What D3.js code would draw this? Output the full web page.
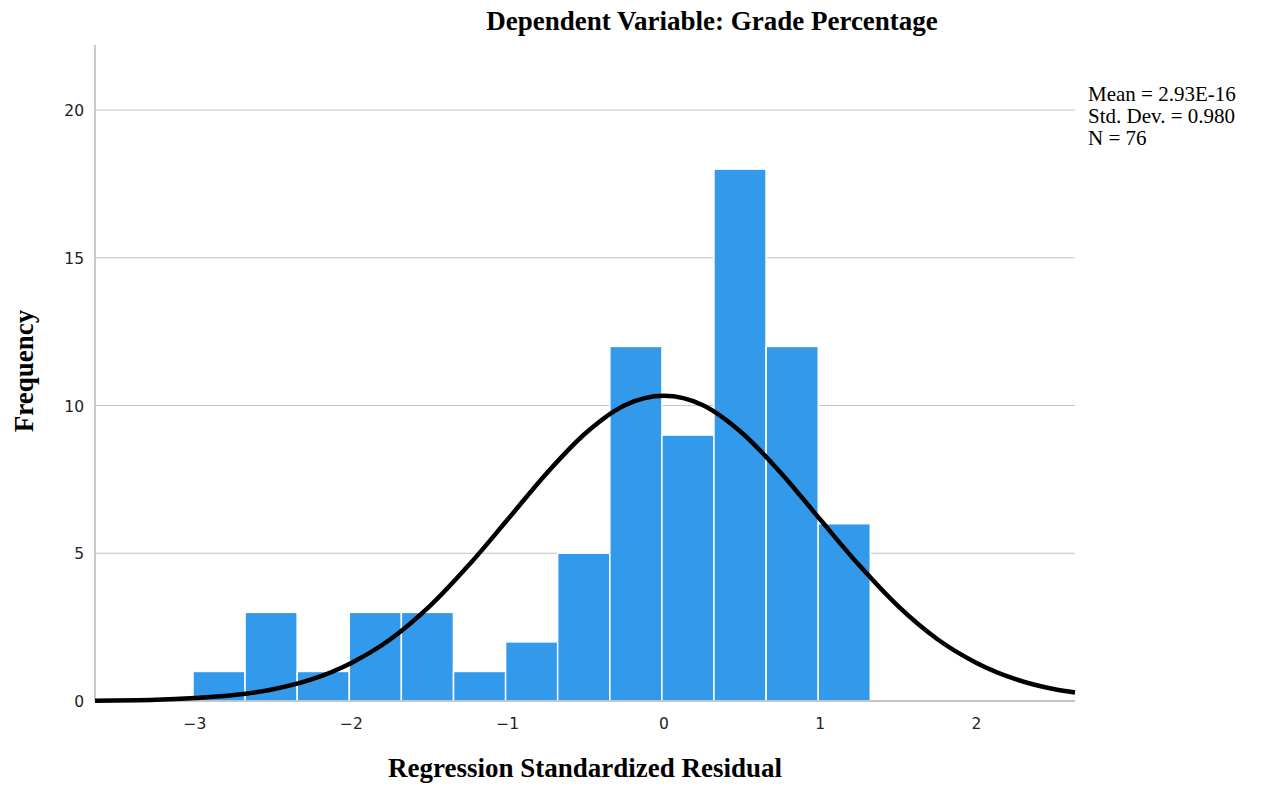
<!DOCTYPE html>
<html><head><meta charset="utf-8">
<script src="https://cdn.jsdelivr.net/npm/d3@7"></script>
<style>body{margin:0;background:#fff}svg{display:block}</style>
</head><body>
<svg id="chart" width="1261" height="788"></svg>
<script>
// Histogram bins (left edges, in residual units) and frequencies
const binStarts = [-3.013, -2.68, -2.346, -2.013, -1.68, -1.346, -1.013, -0.68, -0.346, -0.013, 0.32, 0.654, 0.987];
const binWidth = 0.3333;
const frequencies = [1, 3, 1, 3, 3, 1, 2, 5, 12, 9, 18, 12, 6];
// Normal curve points
const curveX = [-3.64, -3.25, -3.0, -2.75, -2.5, -2.25, -2.0, -1.75, -1.5, -1.25, -1.0, -0.75, -0.5, -0.25, 0.0, 0.25, 0.5, 0.75, 1.0, 1.25, 1.5, 1.75, 2.0, 2.25, 2.5, 2.63];
const curveY = [0.01, 0.04, 0.10, 0.20, 0.40, 0.74, 1.29, 2.09, 3.20, 4.59, 6.14, 7.71, 9.07, 10.01, 10.33, 10.01, 9.07, 7.71, 6.14, 4.59, 3.20, 2.09, 1.29, 0.74, 0.40, 0.29];
const yTicks = [0, 5, 10, 15, 20];
const xTicks = [-3, -2, -1, 0, 1, 2];
const statsLines = ["Mean = 2.93E-16", "Std. Dev. = 0.980", "N = 76"];
const title = "Dependent Variable: Grade Percentage";
const xLabel = "Regression Standardized Residual";
const yLabel = "Frequency";

const svg = d3.select("#chart");
const pL = 95, pR = 1075, pT = 45, pB = 701;
const x = d3.scaleLinear().domain([-3.64, 2.63]).range([pL, pR]);
const y = d3.scaleLinear().domain([0, 22.2]).range([pB, pT]);

// grid lines
svg.append("g").selectAll("line").data(yTicks).join("line")
  .attr("x1", pL).attr("x2", pR)
  .attr("y1", d => y(d)).attr("y2", d => y(d))
  .attr("stroke", "#c4c4c4").attr("stroke-width", 1.2);

// bars
svg.append("g").selectAll("rect").data(frequencies).join("rect")
  .attr("x", (d, i) => x(binStarts[i]))
  .attr("width", (d, i) => x(binStarts[i] + binWidth) - x(binStarts[i]))
  .attr("y", d => y(d))
  .attr("height", d => y(0) - y(d))
  .attr("fill", "#3399ea")
  .attr("stroke", "#ffffff").attr("stroke-width", 1.5);

// axis lines
svg.append("line").attr("x1", pL).attr("x2", pL).attr("y1", pT).attr("y2", pB)
  .attr("stroke", "#b8b8b8").attr("stroke-width", 1.5);
svg.append("line").attr("x1", pL).attr("x2", pR).attr("y1", pB).attr("y2", pB)
  .attr("stroke", "#b8b8b8").attr("stroke-width", 1.5);

// normal curve
const line = d3.line().x(d => x(d[0])).y(d => y(d[1])).curve(d3.curveMonotoneX);
svg.append("path").datum(curveX.map((v, i) => [v, curveY[i]]))
  .attr("d", line).attr("fill", "none").attr("stroke", "#000").attr("stroke-width", 4.5);

// y tick labels
svg.append("g").selectAll("text").data(yTicks).join("text")
  .attr("x", pL - 11).attr("y", d => y(d) + 6)
  .attr("text-anchor", "end")
  .attr("font-family", "DejaVu Sans, sans-serif").attr("font-size", 15.5).attr("fill", "#222")
  .text(d => d);

// x tick labels
svg.append("g").selectAll("text").data(xTicks).join("text")
  .attr("x", d => x(d)).attr("y", pB + 28)
  .attr("text-anchor", "middle")
  .attr("font-family", "DejaVu Sans, sans-serif").attr("font-size", 15.5).attr("fill", "#222")
  .text(d => d < 0 ? "\u2212" + Math.abs(d) : d);

// title
svg.append("text").attr("x", 712).attr("y", 30).attr("text-anchor", "middle")
  .attr("font-family", "Liberation Serif, serif").attr("font-weight", "bold").attr("font-size", 27)
  .text(title);
// x label
svg.append("text").attr("x", 585).attr("y", 777).attr("text-anchor", "middle")
  .attr("font-family", "Liberation Serif, serif").attr("font-weight", "bold").attr("font-size", 27)
  .text(xLabel);
// y label
svg.append("text").attr("transform", "translate(33,371) rotate(-90)").attr("text-anchor", "middle")
  .attr("font-family", "Liberation Serif, serif").attr("font-weight", "bold").attr("font-size", 27)
  .text(yLabel);

// stats legend
svg.append("g").selectAll("text").data(statsLines).join("text")
  .attr("x", 1088).attr("y", (d, i) => 101 + i * 22)
  .attr("font-family", "Liberation Serif, serif").attr("font-size", 21)
  .text(d => d);
</script>
</body></html>
